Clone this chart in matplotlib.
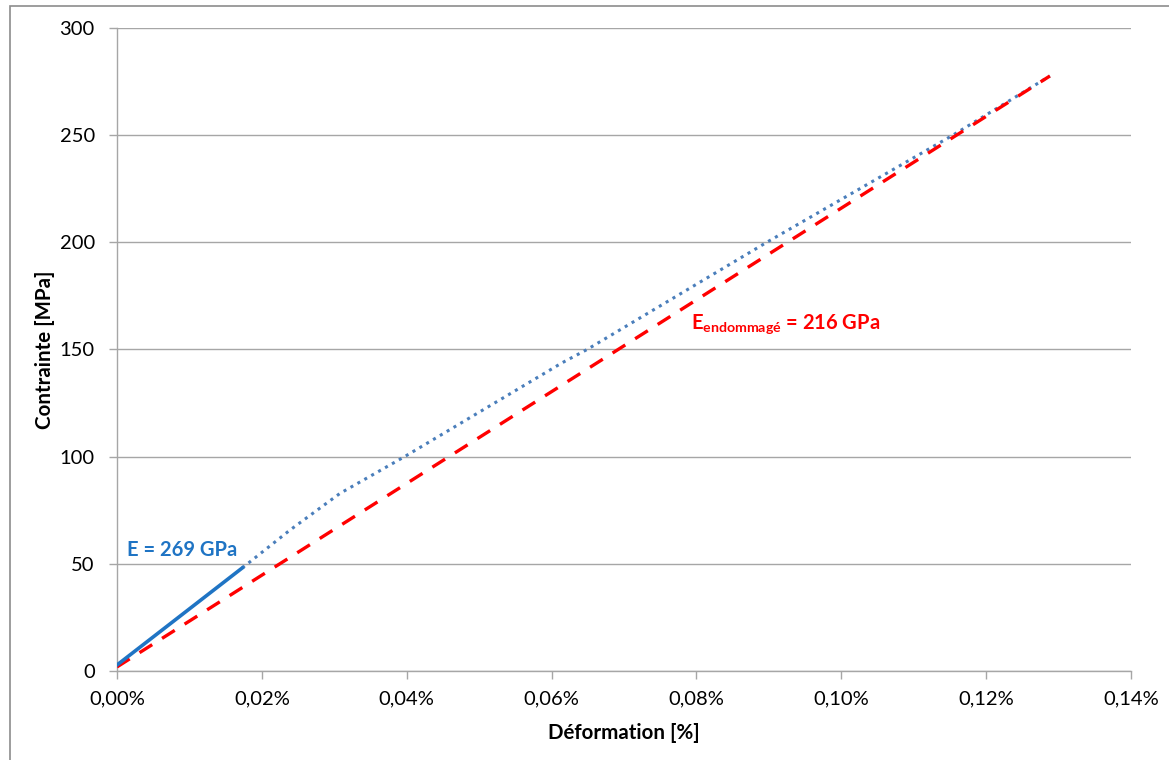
import matplotlib
matplotlib.use("Agg")
import matplotlib.pyplot as plt
from matplotlib.patches import Rectangle
from matplotlib.ticker import FuncFormatter

# Data (strain in %, stress in MPa)
fit_strain = [0.0, 0.0173]
fit_stress = [2.8, 48.1]

meas_strain = [0.0173, 0.0239, 0.0308, 0.0397, 0.0614, 0.0649, 0.0897, 0.1154, 0.1288]
meas_stress = [48.1, 65.8, 82.9, 100.0, 143.7, 150.0, 200.0, 250.0, 277.6]

dmg_strain = [0.0, 0.1288]
dmg_stress = [1.9, 277.6]

x_ticks = [0.0, 0.02, 0.04, 0.06, 0.08, 0.10, 0.12, 0.14]
y_ticks = [0, 50, 100, 150, 200, 250, 300]

plt.rcParams['font.family'] = ['Lato', 'DejaVu Sans']

fig = plt.figure(figsize=(11.69, 7.6), dpi=100)
ax = fig.add_axes([117/1169, 1-671/760, (1131-117)/1169, (671-28)/760])

# outer frame
fig.patches.append(Rectangle((10/1169, -0.1), 1.2, (760-6)/760 + 0.1,
                             transform=fig.transFigure, fill=False,
                             edgecolor='#8c8c8c', linewidth=1.2))

grid_c = '#a6a6a6'
ax.plot(meas_strain, meas_stress, linestyle=(0, (1, 1.6)), color='#4a7ebb',
        linewidth=2.2, zorder=3)
ax.plot(dmg_strain, dmg_stress, linestyle=(0, (4.5, 3.5)), color='#ff0000',
        linewidth=2.4, zorder=4)
ax.plot(fit_strain, fit_stress, linestyle='-', color='#1f74c4',
        linewidth=2.6, zorder=5)

ax.set_xlim(0, 0.14)
ax.set_ylim(0, 300)
ax.set_xticks(x_ticks)
ax.set_yticks(y_ticks)
ax.xaxis.set_major_formatter(FuncFormatter(lambda v, p: f"{v:.2f}%".replace('.', ',')))
ax.yaxis.grid(True, color=grid_c, linewidth=1.0)
ax.set_axisbelow(True)
for s in ['top', 'right']:
    ax.spines[s].set_visible(False)
for s in ['left', 'bottom']:
    ax.spines[s].set_color(grid_c)
    ax.spines[s].set_linewidth(1.0)
ax.tick_params(axis='both', colors=grid_c, length=6, width=1.0,
               labelcolor='black', labelsize=14.5)
ax.tick_params(axis='x', pad=8)
ax.tick_params(axis='y', pad=10)

ax.set_xlabel('Déformation [%]', fontsize=14.8, fontweight='bold', labelpad=12)
ax.set_ylabel('Contrainte [MPa]', fontsize=14.8, fontweight='bold', labelpad=0)
ax.yaxis.set_label_coords(-(117 - 45) / (1131 - 117), 0.5)
ax.xaxis.set_label_coords(0.5, -(733 - 671) / (671 - 28))
ax.xaxis.label.set_va('center')
ax.yaxis.label.set_va('center')

ax.text(0.0014, 56.5, 'E = 269 GPa', color='#1f74c4', fontsize=14.5,
        fontweight='bold', ha='left', va='center')
ax.text(0.0793, 162, r'E$_{\mathregular{endommagé}}$ = 216 GPa', color='#ff0000',
        fontsize=14.5, fontweight='bold', ha='left', va='center')

fig.savefig('out.png', dpi=100)
